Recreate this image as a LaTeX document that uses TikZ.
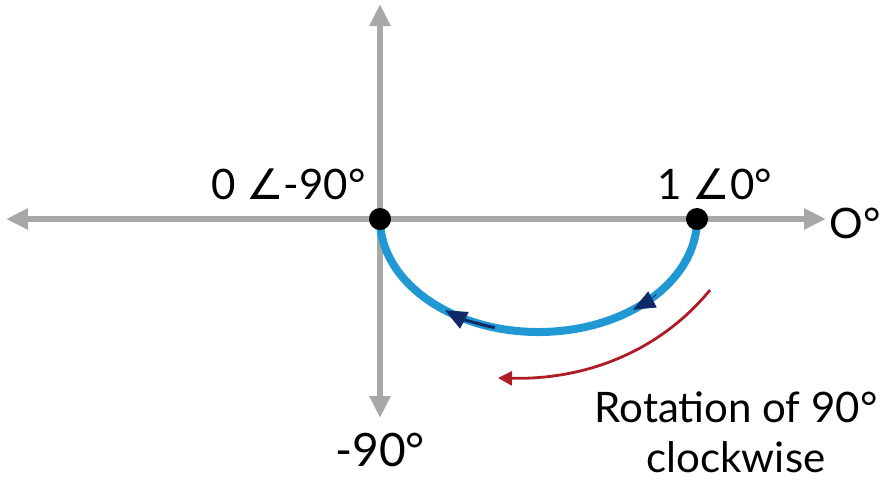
\documentclass[tikz,border=0pt]{standalone}
\usepackage{fontspec}
\setmainfont{Lato}
\newfontfamily\anglefont{DejaVu Sans}
\usetikzlibrary{arrows.meta}
\definecolor{axisgray}{RGB}{168,168,168}
\definecolor{arcblue}{RGB}{32,152,212}
\definecolor{tipnavy}{RGB}{14,42,104}
\definecolor{rotred}{RGB}{176,28,38}
\newcommand{\ang}{{\anglefont\char"2220}}

\begin{document}
\begin{tikzpicture}[x=0.5pt,y=-0.5pt,
  axisline/.style={draw=axisgray,line width=2.75pt,
    arrows={Triangle[length=11pt,width=10pt]-Triangle[length=11pt,width=10pt]}},
  arcline/.style={draw=arcblue,line width=4pt},
  arctip/.style={draw=tipnavy,-{Triangle[length=11pt,width=9pt]}},
  dot/.style={circle,fill=black,inner sep=0pt,minimum size=11pt},
  lbl/.style={inner sep=0pt,font=\fontsize{21}{25}\selectfont}]
\useasboundingbox (0,0) rectangle (881,479);
% ---------- axes ----------
\coordinate (L) at (6,219);
\coordinate (R) at (826,219);
\coordinate (T) at (380,4);
\coordinate (B) at (380,418);
\draw[axisline] (L) -- (R);
\draw[axisline] (B) -- (T);
% ---------- rotation arc ----------
\def\rx{158.5}
\def\ry{113}
\coordinate (Pc) at (697,219);
\draw[arcline] (Pc) arc[start angle=0,end angle=180,x radius=\rx,y radius=\ry];
% arrow heads along the arc
\coordinate (t1) at (656.3,294.6);
\coordinate (t2) at (494.8,327.6);
\draw[arctip,line width=0.4pt] (t1) arc[start angle=42,end angle=53.4,x radius=\rx,y radius=\ry];
\draw[arctip,line width=1.5pt] (t2) arc[start angle=106,end angle=126.2,x radius=\rx,y radius=\ry];
% ---------- points ----------
\node[dot] (O) at (380,219) {};
\node[dot] (P) at (697,219) {};
% ---------- labels ----------
\node[lbl,anchor=base east] (lblO) at (366,199) {0 \ang-90°};
\node[lbl,anchor=base west] (lblP) at (657,199) {1 \ang0°};
\node[lbl,anchor=base west] (lblR) at (829,238) {O°};
\node[lbl,anchor=base,font=\fontsize{23}{27}\selectfont] (lblB) at (380,466) {-90°};
% ---------- red rotation arrow ----------
\coordinate (r1) at (710,290);
\coordinate (r2) at (498,378);
\draw[rotred,line width=1.4pt,-{Triangle[length=7pt,width=7pt]}]
  (r1) .. controls (665,345) and (595,380) .. (r2);
\node[lbl,align=center,anchor=north] (rot) at (736,391) {Rotation of 90°\\clockwise};
\end{tikzpicture}
\end{document}
